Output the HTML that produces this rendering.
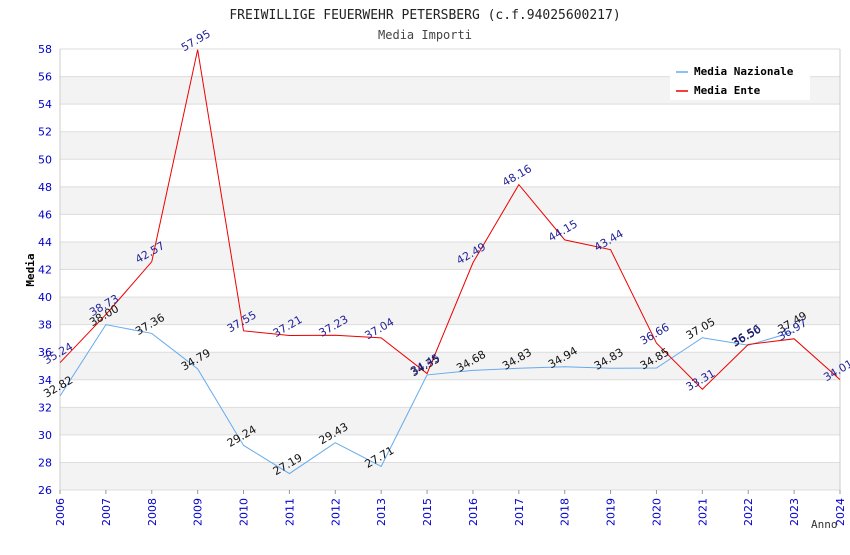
<!DOCTYPE html>
<html><head><meta charset="utf-8"><style>
body{margin:0;background:#fff}
svg text{font-family:"DejaVu Sans","Liberation Sans",sans-serif}
.mono{font-family:"DejaVu Sans Mono","Liberation Mono",monospace}
</style></head><body>
<svg id="c" width="850" height="550">
<text class="mono" x="425" y="19" text-anchor="middle" font-size="13" fill="#222">FREIWILLIGE FEUERWEHR PETERSBERG (c.f.94025600217)</text>
<text class="mono" x="425" y="39" text-anchor="middle" font-size="12" fill="#444">Media Importi</text>
<g id="grid"></g>
<g id="axes"></g>
<g id="series"></g>
<g id="labels"></g>
<text class="mono" x="34" y="270" font-size="11" font-weight="bold" transform="rotate(-90 34 270)" text-anchor="middle">Media</text>
<text class="mono" x="811" y="528" font-size="11" fill="#333">Anno</text>
<g>
<rect x="670" y="60" width="140" height="40" fill="#fff"/>
<line x1="676" y1="72" x2="688" y2="72" stroke="#66aaee" stroke-width="1.5"/>
<text class="mono" x="694" y="75" font-size="11" font-weight="bold">Media Nazionale</text>
<line x1="676" y1="91" x2="688" y2="91" stroke="#ee0000" stroke-width="1.5"/>
<text class="mono" x="694" y="94" font-size="11" font-weight="bold">Media Ente</text>
</g>
</svg>
<script>
const categories=["2006","2007","2008","2009","2010","2011","2012","2013","2015","2016","2017","2018","2019","2020","2021","2022","2023","2024"];
const nazionale=[32.82,38.00,37.36,34.79,29.24,27.19,29.43,27.71,34.35,34.68,34.83,34.94,34.83,34.85,37.05,36.50,37.49,null];
const ente=[35.24,38.73,42.57,57.95,37.55,37.21,37.23,37.04,34.45,42.49,48.16,44.15,43.44,36.66,33.31,36.56,36.97,34.01];
const yTicks=[26,28,30,32,34,36,38,40,42,44,46,48,50,52,54,56,58];
const X0=60,X1=840,Y0=490,Y1=49,ymin=26,ymax=58;
const xs=i=>X0+i*(X1-X0)/(categories.length-1);
const ys=v=>Y0-(v-ymin)*(Y0-Y1)/(ymax-ymin);
const NS="http://www.w3.org/2000/svg";
function mk(t,a,p){const e=document.createElementNS(NS,t);for(const k in a)e.setAttribute(k,a[k]);p.appendChild(e);return e;}
const grid=document.getElementById('grid'),axes=document.getElementById('axes'),ser=document.getElementById('series'),lab=document.getElementById('labels');
for(let i=0;i<yTicks.length-1;i++){
 if(i%2===0){const r=mk('rect',{x:X0,y:ys(yTicks[i+1]),width:X1-X0,height:ys(yTicks[i])-ys(yTicks[i+1]),fill:'#f3f3f3'},grid);
 
 }
}
yTicks.forEach(v=>{
 const l=mk('line',{x1:X0,x2:X1,y1:ys(v),y2:ys(v),stroke:'#ddd'},grid);
 
 
 const t=mk('text',{x:X0-8,y:ys(v)+4,'text-anchor':'end','font-size':11,fill:'#0000cc'},axes);
 t.textContent=v;
 
 
});
mk('line',{x1:X0,x2:X0,y1:Y1,y2:Y0,stroke:'#ccc'},axes);
mk('line',{x1:X1,x2:X1,y1:Y1,y2:Y0,stroke:'#ccc'},axes);
categories.forEach((c,i)=>{
 const x=xs(i);
 mk('line',{x1:x,x2:x,y1:Y0,y2:Y0+4,stroke:'#999'},axes);
 const t=mk('text',{x:x+4,y:Y0+8,'text-anchor':'end','font-size':11,fill:'#0000cc',transform:`rotate(-90 ${x+4} ${Y0+8})`},axes);
 t.textContent=c;
 
 
});
function line(data,color,name,lc){
 let d='';data.forEach((v,i)=>{if(v==null)return;d+=(d?'L':'M')+xs(i)+','+ys(v);});
 const p=mk('path',{d:d,fill:'none',stroke:color,'stroke-width':1},ser);
 
 
 data.forEach((v,i)=>{if(v==null)return;
  const x=xs(i),y=ys(v)-6;
  const t=mk('text',{x:x,y:y,'text-anchor':'middle','font-size':11,fill:lc,transform:`rotate(-30 ${x} ${y})`},lab);
  t.textContent=v.toFixed(2);
  
  
 });
}
line(nazionale,'#66aaee','line-nazionale','#111');
line(ente,'#ee0000','line-ente','#22229a');
</script>
</body></html>
